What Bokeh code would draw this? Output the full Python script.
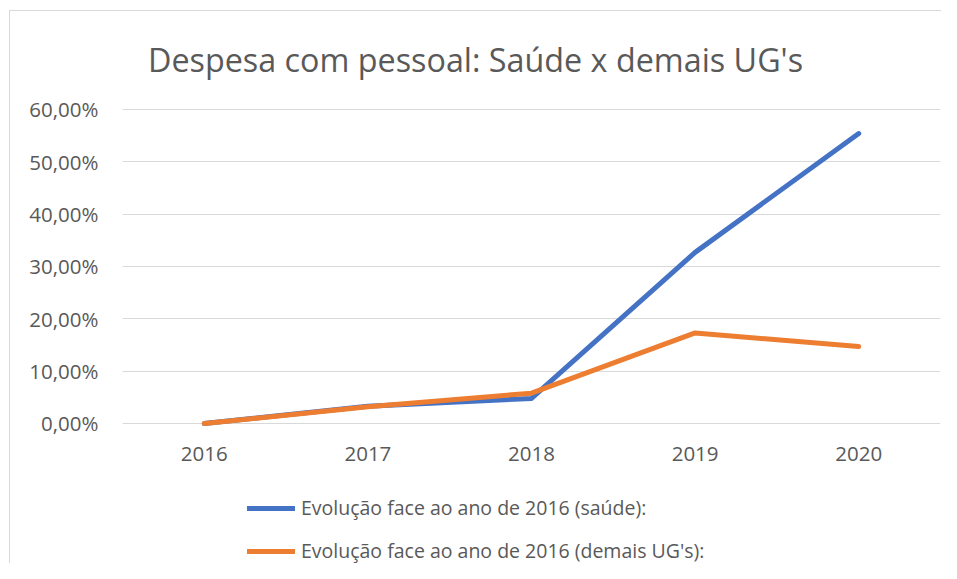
from bokeh.plotting import figure
from bokeh.models import (Range1d, FixedTicker, CustomJSTickFormatter, Label,
                          Legend, LegendItem, ColumnDataSource, CategoricalAxis)
from bokeh.embed import file_html
from bokeh.resources import INLINE

# ---- data ----
years = ["2016", "2017", "2018", "2019", "2020"]
saude = [0.0, 3.3, 4.8, 32.7, 55.4]          # % evolution vs 2016 (saúde)
demais = [0.0, 3.2, 5.8, 17.3, 14.7]         # % evolution vs 2016 (demais UG's)
y_ticks = [0, 10, 20, 30, 40, 50, 60]
title_text = "Despesa com pessoal: Saúde x demais UG's"
label_saude = "Evolução face ao ano de 2016 (saúde):"
label_demais = "Evolução face ao ano de 2016 (demais UG's):"

FONT = "Open Sans"
TXT = "#595959"
GRID = "#D9D9D9"
BLUE = "#4472C4"
ORANGE = "#ED7D31"

src = ColumnDataSource(dict(year=years, saude=saude, demais=demais))

bg = ("linear-gradient(#D9D9D9, #D9D9D9) no-repeat 9px 10px / 100% 1px, "
      "linear-gradient(#D9D9D9, #D9D9D9) no-repeat 9px 10px / 1px 100%, white")

# frame spans from y=40 to the bottom of the canvas; values 0..60 map to 423..109 px
p = figure(width=941, height=563, x_range=years, y_range=Range1d(-26.75, 73.18),
           output_backend="svg", toolbar_location=None,
           x_axis_location=None,
           min_border_left=122, min_border_right=1,
           min_border_top=40, min_border_bottom=0,
           background_fill_color="white", border_fill_color=None,
           styles={"background": bg})
p.outline_line_color = None
p.title.visible = False

r1 = p.line("year", "saude", source=src, line_color=BLUE, line_width=5,
            line_cap="round", line_join="round")
r2 = p.line("year", "demais", source=src, line_color=ORANGE, line_width=5,
            line_cap="round", line_join="round")

# y axis
p.yaxis.ticker = FixedTicker(ticks=y_ticks)
p.yaxis.formatter = CustomJSTickFormatter(code="return tick.toFixed(2).replace('.', ',') + '%';")
p.yaxis.axis_line_color = None
p.yaxis.major_tick_line_color = None
p.yaxis.minor_tick_line_color = None
p.yaxis.major_label_text_font = FONT
p.yaxis.major_label_text_font_size = "20.5px"
p.yaxis.major_label_text_color = TXT
p.yaxis.major_label_standoff = 18
p.ygrid.ticker = FixedTicker(ticks=y_ticks)
p.ygrid.grid_line_color = GRID
p.ygrid.grid_line_width = 1

# x axis: category labels drawn just under the 0 % line
xaxis = CategoricalAxis(fixed_location=-8.6,
                        axis_line_color=None,
                        major_tick_line_color=None, minor_tick_line_color=None,
                        major_label_text_font=FONT,
                        major_label_text_font_size="20.5px",
                        major_label_text_color=TXT,
                        major_label_standoff=2)
p.add_layout(xaxis, "above")
p.xgrid.grid_line_color = None

# title
p.add_layout(Label(x=2.158, y=69.65, text=title_text, text_font=FONT,
                   text_font_size="32.3px", text_color=TXT,
                   text_align="center", text_baseline="middle"))

# legend
legend = Legend(items=[LegendItem(label=label_saude, renderers=[r1]),
                       LegendItem(label=label_demais, renderers=[r2])],
                location=(125, -1), orientation="vertical",
                padding=0, margin=0, spacing=16,
                glyph_width=48, glyph_height=20, label_height=20,
                label_standoff=6,
                label_text_font=FONT, label_text_font_size="19.5px",
                label_text_color=TXT,
                border_line_color=None, background_fill_alpha=0)
p.add_layout(legend, "center")

open("out.html", "w").write(file_html(p, INLINE))
